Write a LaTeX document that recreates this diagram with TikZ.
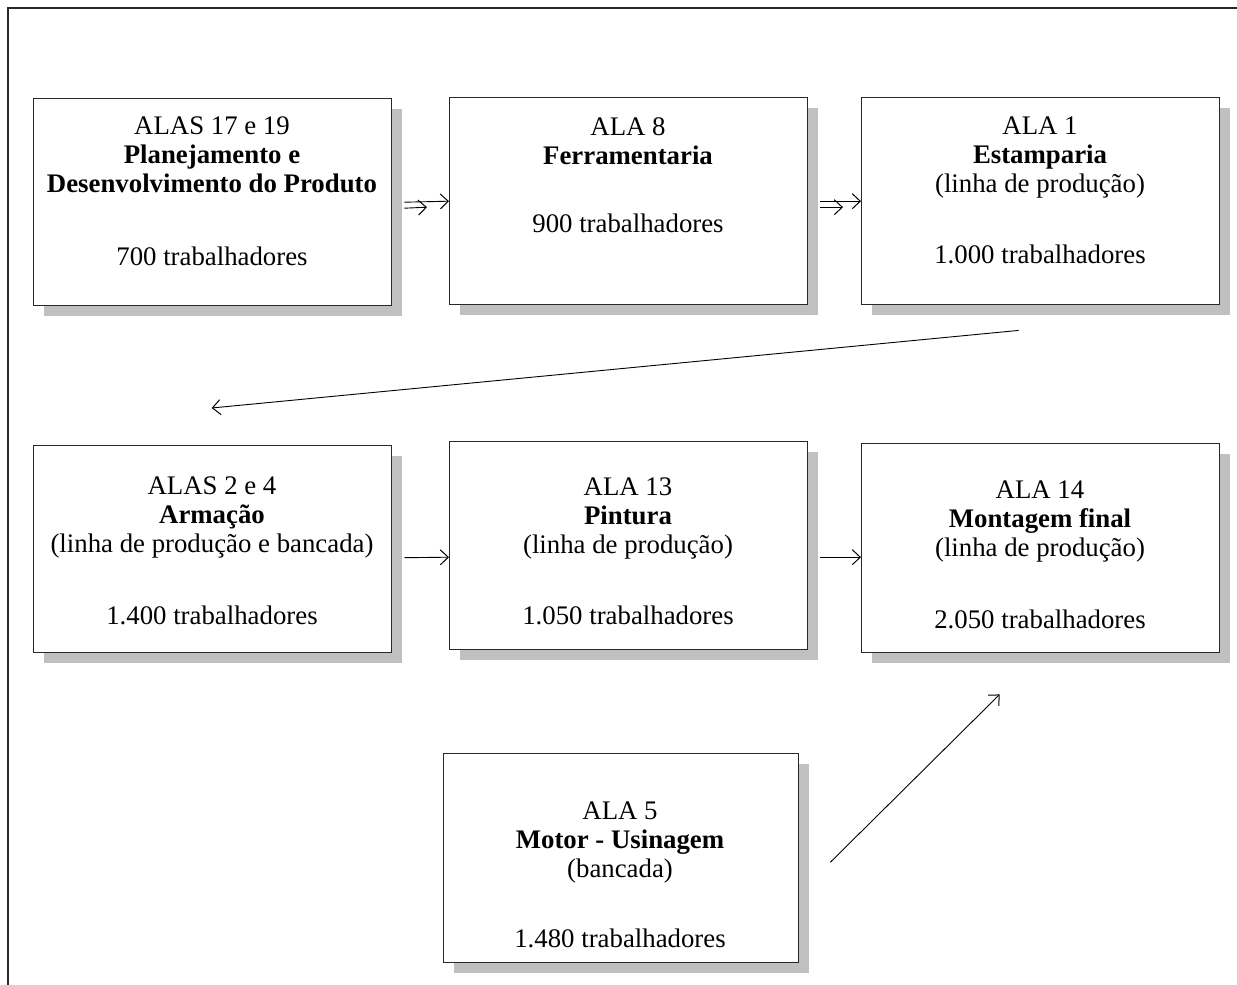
\documentclass[tikz,border=0pt]{standalone}
\usepackage{fontspec}
\setmainfont{Liberation Serif}
\usetikzlibrary{arrows.meta,shadows}
\definecolor{shadowgray}{RGB}{192,192,192}
\definecolor{edgegray}{RGB}{40,40,40}
\tikzset{
  box/.style={draw=edgegray, line width=1.4pt, fill=white, minimum width=358pt, minimum height=207pt, inner sep=0pt, anchor=north west,
    general shadow={fill=shadowgray, shadow xshift=10pt, shadow yshift=-10pt}},
  txt/.style={align=center, inner sep=0pt, anchor=north, font=\fontsize{26.8}{29}\selectfont},
  arr/.style={draw=black, line width=0.9pt, -{Straight Barb[length=8pt,width=15pt,line width=1pt]}},
  frame/.style={draw=edgegray, line width=1.5pt}
}
\begin{document}
\begin{tikzpicture}[x=1pt,y=-1pt]
\useasboundingbox (0,0) rectangle (1237,985);
\draw[frame] (8,985) -- (8,8) -- (1237,8);
% boxes
\node[box] (b1) at (33,98) {};
\node[box] (b2) at (449,97) {};
\node[box] (b3) at (861,97) {};
\node[box] (b4) at (33,445) {};
\node[box, minimum height=208pt] (b5) at (449,441) {};
\node[box, minimum height=209pt] (b6) at (861,443) {};
\node[box, minimum width=355pt, minimum height=209pt] (b7) at (443,753) {};
% texts
\node[txt] (t1) at (212,117) {ALAS 17 e 19\\\textbf{Planejamento e}\\\textbf{Desenvolvimento do Produto}\\[44pt]700 trabalhadores};
\node[txt] (t2) at (628,117) {ALA 8\\\textbf{Ferramentaria}\\[39pt]900 trabalhadores};
\node[txt] (t3) at (1040,117) {ALA 1\\\textbf{Estamparia}\\(linha de produção)\\[42pt]1.000 trabalhadores};
\node[txt] (t4) at (212,477) {ALAS 2 e 4\\\textbf{Armação}\\(linha de produção e bancada)\\[43pt]1.400 trabalhadores};
\node[txt] (t5) at (628,478) {ALA 13\\\textbf{Pintura}\\(linha de produção)\\[42pt]1.050 trabalhadores};
\node[txt] (t6) at (1040,481) {ALA 14\\\textbf{Montagem final}\\(linha de produção)\\[43pt]2.050 trabalhadores};
\node[txt] (t7) at (620,802) {ALA 5\\\textbf{Motor - Usinagem}\\(bancada)\\[41pt]1.480 trabalhadores};
% connectors
\draw[arr] ([xshift=12pt]b1.east) -- (b2.west);
\draw[arr] ([xshift=12pt,yshift=-6pt]b1.east) -- ([xshift=-22pt,yshift=-6pt]b2.west);
\draw[arr] ([xshift=12pt]b2.east) -- (b3.west);
\draw[arr] ([xshift=12pt,yshift=-6pt]b2.east) -- ([xshift=-18pt,yshift=-6pt]b3.west);
\draw[arr] ([xshift=-22pt,yshift=-25pt]b3.south) -- ([xshift=-1pt,yshift=37pt]b4.north);
\draw[arr] ([xshift=12pt,yshift=-8.5pt]b4.east) -- ([yshift=-11.5pt]b5.west);
\draw[arr] ([xshift=12pt,yshift=-11.5pt]b5.east) -- ([yshift=-9pt]b6.west);
\draw[arr] ([xshift=31pt,yshift=-4pt]b7.east) -- ([xshift=-41pt,yshift=-41pt]b6.south);
\end{tikzpicture}
\end{document}
